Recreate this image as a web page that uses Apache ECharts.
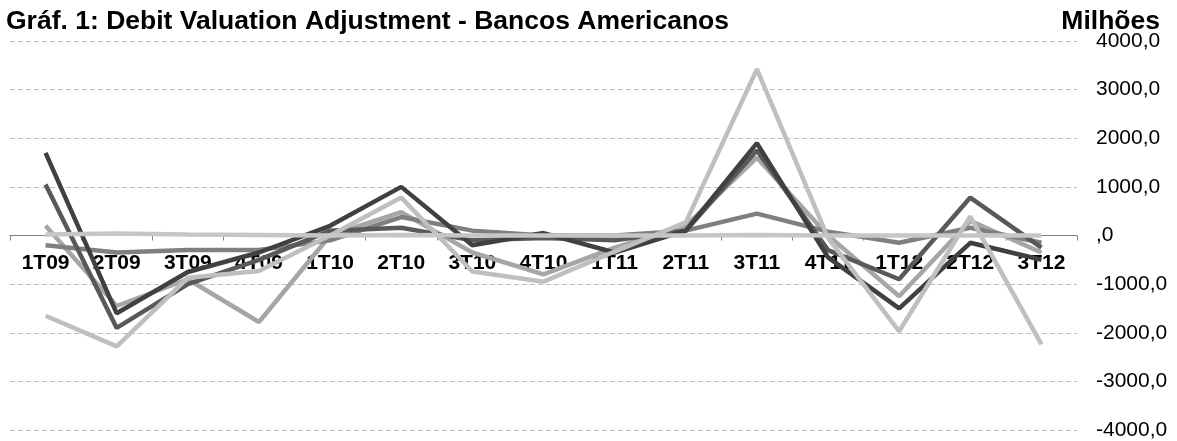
<!DOCTYPE html>
<html>
<head>
<meta charset="utf-8">
<script src="https://cdn.jsdelivr.net/npm/echarts@6/dist/echarts.min.js"></script>
<style>
html,body{margin:0;padding:0;background:#fff;}
#chart{width:1177px;height:441px;}
</style>
</head>
<body>
<div id="chart"></div>
<script>
const categories = ['1T09','2T09','3T09','4T09','1T10','2T10','3T10','4T10','1T11','2T11','3T11','4T11','1T12','2T12','3T12'];
const seriesA = [1700, -1600, -750, -350, 200, 1000, -200, 50, -350, 100, 1900, -450, -1500, -150, -500];
const seriesB = [1050, -1900, -1000, -500, 100, 160, -100, -50, -100, 100, 1750, -300, -900, 780, -250];
const seriesC = [-200, -350, -300, -300, -100, 380, 100, 0, 0, 100, 450, 80, -150, 160, -150];
const seriesD = [200, -1450, -900, -1780, 0, 480, -350, -800, -250, 200, 1600, 0, -1250, 300, -350];
const seriesE = [-1650, -2280, -870, -730, 0, 780, -740, -950, -330, 270, 3420, -50, -1970, 390, -2240];
const seriesF = [20, 40, 20, 10, 0, 10, 0, 0, 0, 0, 10, 0, 0, 0, 0];
const yTicks = [-4000, -3000, -2000, -1000, 0, 1000, 2000, 3000, 4000];

const W = 1177, H = 441;
const gridTop = 41, gridBottom = 11;
const plotH = H - gridTop - gridBottom;
const yMin = yTicks[0], yMax = yTicks[yTicks.length - 1];
// distance from grid bottom edge to the zero line
const zeroOffset = plotH * (0 - yMin) / (yMax - yMin);

const chart = echarts.init(document.getElementById('chart'), null, {renderer: 'canvas'});
function mk(name, data, color) {
  return {name, type: 'line', data, symbol: 'none', smooth: false,
    lineStyle: {color, width: 4.5}, itemStyle: {color}, animation: false};
}
chart.setOption({
  animation: false,
  backgroundColor: '#ffffff',
  title: [
    {text: 'Gráf. 1: Debit Valuation Adjustment - Bancos Americanos', left: 1, top: 3,
     textStyle: {fontFamily: 'Liberation Sans, Arial', fontWeight: 'bold', fontSize: 26.5, color: '#000'}},
    {text: 'Milhões', right: 12, top: 3,
     textStyle: {fontFamily: 'Liberation Sans, Arial', fontWeight: 'bold', fontSize: 26.5, color: '#000'}}
  ],
  grid: {left: 10, right: 100, top: gridTop, bottom: gridBottom, containLabel: false, outerBoundsMode: 'none'},
  xAxis: {
    type: 'category', data: categories, boundaryGap: true, position: 'bottom',
    offset: -zeroOffset,
    axisLine: {onZero: false, lineStyle: {color: '#808080', width: 1}},
    axisTick: {show: true, length: 5, lineStyle: {color: '#808080'}},
    axisLabel: {margin: 17, fontFamily: 'Liberation Sans, Arial', fontWeight: 'bold', fontSize: 21, color: '#000', interval: 0},
    splitLine: {show: false},
    z: 1
  },
  yAxis: {
    type: 'value', position: 'right', min: yMin, max: yMax, interval: 1000,
    axisLine: {show: false}, axisTick: {show: false},
    axisLabel: {margin: 19, fontFamily: 'Liberation Sans, Arial', fontSize: 21, color: '#000',
      formatter: v => v === 0 ? ',0' : v + ',0'},
    splitLine: {show: true, lineStyle: {color: '#bfbfbf', width: 1, type: [5, 3]}}
  },
  series: [
    mk('D', seriesD, '#a6a6a6'),
    mk('C', seriesC, '#7f7f7f'),
    mk('B', seriesB, '#595959'),
    mk('A', seriesA, '#404040'),
    mk('E', seriesE, '#bfbfbf'),
    mk('F', seriesF, '#c6c6c6')
  ]
});
</script>
</body>
</html>
